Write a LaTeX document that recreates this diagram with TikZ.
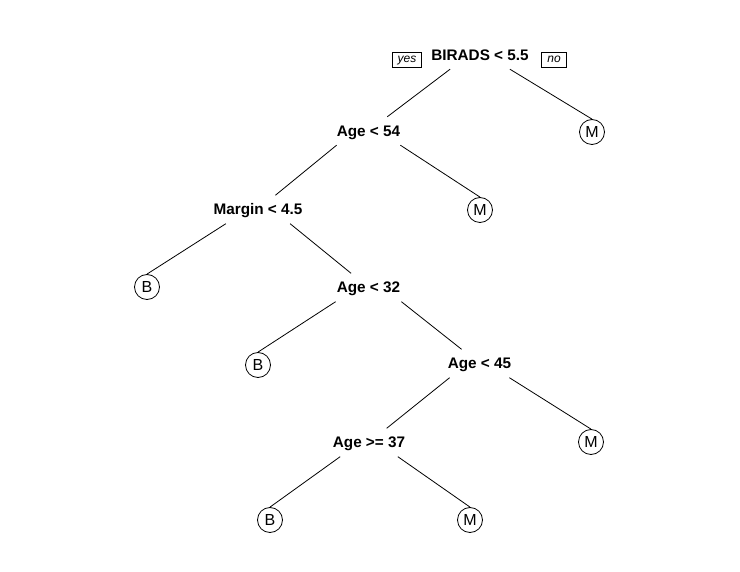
\documentclass[tikz,border=0pt]{standalone}
\usepackage{fontspec}
\setmainfont{Liberation Sans}
\usetikzlibrary{positioning}

\begin{document}
\begin{tikzpicture}[x=1pt,y=-1pt,
 split/.style={font=\fontsize{15.3}{18}\selectfont\bfseries,text height=11pt,text depth=0pt,inner ysep=8.5pt,inner xsep=#1},
 leaf/.style={draw,circle,line width=0.8pt,minimum size=25pt,inner sep=0pt,font=\fontsize{16}{18}\selectfont},
 tag/.style={draw,line width=0.8pt,font=\fontsize{12}{14}\selectfont\itshape,inner xsep=5.5pt,inner ysep=2pt,text height=7.5pt,text depth=3pt},
 edge/.style={line width=0.8pt}]
 \useasboundingbox (0,0) rectangle (740,572);
 % split labels
 \node[split=-19pt] (birads) at (480,55) {BIRADS < 5.5};
 \node[tag] (yes) at (407,60) {yes};
 \node[tag] (no) at (554,60) {no};
 \node[split=0pt] (age54) at (368.5,131) {Age < 54};
 \node[split=-12.5pt] (margin) at (258,209.5) {Margin < 4.5};
 \node[split=1pt] (age32) at (368.5,287.5) {Age < 32};
 \node[split=-2pt] (age45) at (479.5,363.5) {Age < 45};
 \node[split=-7.5pt] (age37) at (369,442.5) {Age >= 37};
 % leaves
 \node[leaf] (m1) at (592,132) {M};
 \node[leaf] (m2) at (480,210) {M};
 \node[leaf] (b1) at (147,287) {B};
 \node[leaf] (b2) at (258,365) {B};
 \node[leaf] (m3) at (591,442) {M};
 \node[leaf] (b3) at (270,520) {B};
 \node[leaf] (m4) at (470,520) {M};
 % branches
 \draw[edge] (birads.south west) -- (age54);
 \draw[edge] (birads.south east) -- (m1.north);
 \draw[edge] (age54.south west) -- (margin);
 \draw[edge] (age54.south east) -- (m2.north);
 \draw[edge] (margin.south west) -- (b1.north);
 \draw[edge] (margin.south east) -- (age32);
 \draw[edge] (age32.south west) -- (b2.north);
 \draw[edge] (age32.south east) -- (age45);
 \draw[edge] (age45.south west) -- (age37);
 \draw[edge] (age45.south east) -- (m3.north);
 \draw[edge] (age37.south west) -- (b3.north);
 \draw[edge] (age37.south east) -- (m4.north);
\end{tikzpicture}
\end{document}
